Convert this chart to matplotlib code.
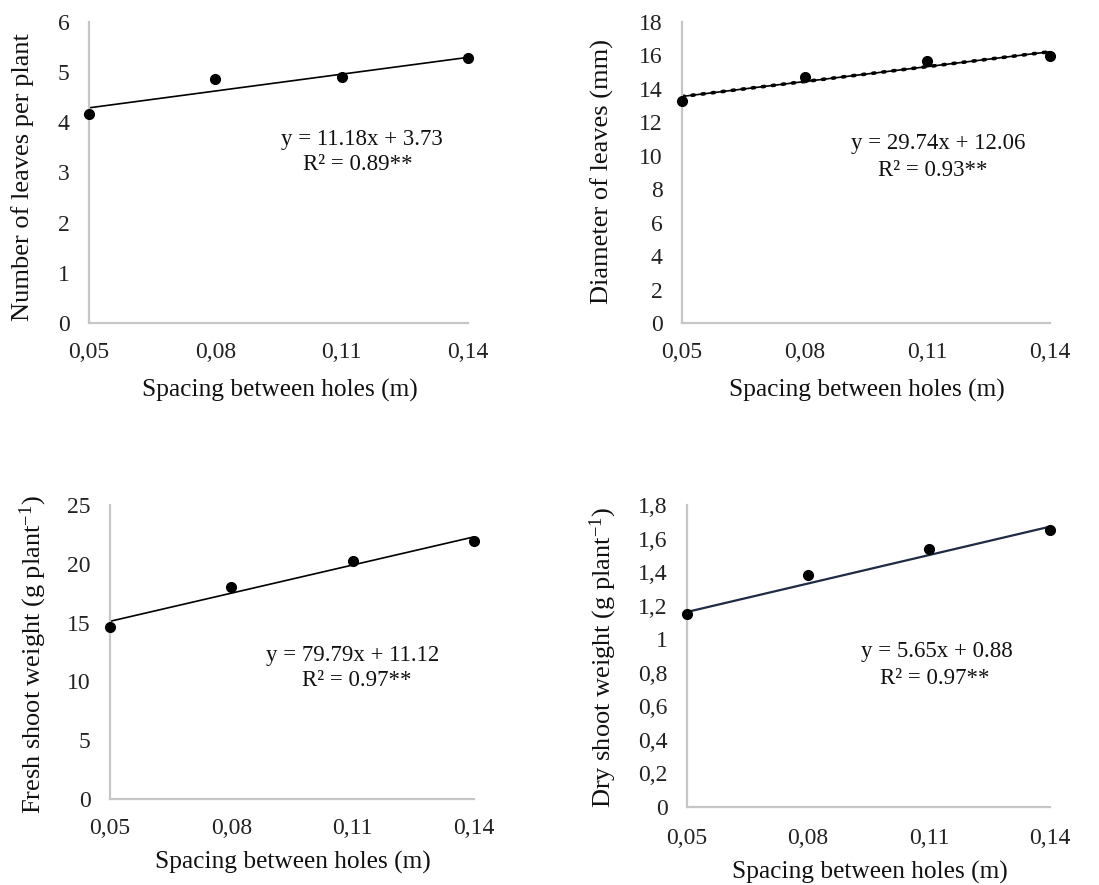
import matplotlib
matplotlib.use("Agg")
import matplotlib.pyplot as plt
import numpy as np

plt.rcParams['font.family'] = ['Liberation Serif', 'DejaVu Serif']
plt.rcParams['mathtext.fontset'] = 'custom'
plt.rcParams['mathtext.rm'] = 'Liberation Serif'
plt.rcParams['mathtext.it'] = 'Liberation Serif:italic'

spacing = [0.05, 0.08, 0.11, 0.14]
x_ticklabels = ["0,05", "0,08", "0,11", "0,14"]

leaves_number = [4.17, 4.86, 4.91, 5.28]
leaves_diameter = [13.29, 14.73, 15.65, 15.99]
fresh_weight = [14.61, 18.01, 20.27, 21.94]
dry_weight = [1.148, 1.382, 1.537, 1.651]

slopes = [11.18, 29.74, 79.79, 5.65]
intercepts = [3.73, 12.06, 11.12, 0.88]
r2_text = ["0.89**", "0.93**", "0.97**", "0.97**"]

y_labels = ["Number of leaves per plant", "Diameter of leaves (mm)",
            "Fresh shoot weight (g plant$^{\\mathrm{-1}}$)", "Dry shoot weight (g plant$^{\\mathrm{-1}}$)"]
y_ticks = [np.arange(0, 7, 1), np.arange(0, 19, 2), np.arange(0, 26, 5), np.arange(0, 1.81, 0.2)]
y_ticklabels = [[str(v) for v in range(0, 7)],
                [str(v) for v in range(0, 19, 2)],
                [str(v) for v in range(0, 26, 5)],
                ["0", "0,2", "0,4", "0,6", "0,8", "1", "1,2", "1,4", "1,6", "1,8"]]
y_max = [6, 18, 25, 1.8]

W, H = 1099, 885
fig = plt.figure(figsize=(W / 100, H / 100), dpi=100)

def box(l, r, t, b):
    return [l / W, 1 - b / H, (r - l) / W, (b - t) / H]

positions = [box(89, 468, 22, 323), box(682, 1050, 22, 323),
             box(110, 474, 505, 799), box(687, 1050, 505, 807)]
eq_pos = [(362, 140, 358, 165), (938, 143, 933, 170), (353, 655, 357, 681), (937, 652, 935, 678)]
ylab_pos = [(23, 177), (602, 172), (33, 655), (603, 657)]
xlab_pos = [(280, 390), (867, 390), (293, 862), (870, 872)]
x_pads = [14, 14, 14, 15]

data = [leaves_number, leaves_diameter, fresh_weight, dry_weight]
axis_color = "#c6c6c6"

for i in range(4):
    ax = fig.add_axes(positions[i])
    x = np.array(spacing)
    fit = slopes[i] * x + intercepts[i]
    if i == 1:
        ax.plot(x, fit, color="black", lw=1.2, zorder=2)
        ax.plot(x, fit, color="black", lw=2.6, linestyle=(0, (0.6, 2.2)),
                dash_capstyle="round", zorder=2)
    elif i == 3:
        ax.plot(x, fit, color="#1f2a44", lw=1.6, zorder=2)
    else:
        ax.plot(x, fit, color="black", lw=1.2, zorder=2)
    ax.plot(x, data[i], 'o', color="black", markersize=7, zorder=3, clip_on=False)
    ax.set_xlim(0.05, 0.14)
    ax.set_ylim(0, y_max[i])
    ax.set_xticks(spacing)
    ax.set_xticklabels(x_ticklabels)
    ax.set_yticks(y_ticks[i])
    ax.set_yticklabels(y_ticklabels[i])
    for s in ["top", "right"]:
        ax.spines[s].set_visible(False)
    for s in ["left", "bottom"]:
        ax.spines[s].set_color(axis_color)
        ax.spines[s].set_linewidth(1.6)
    ax.tick_params(axis="both", length=0, labelsize=17, colors="#222222")
    ax.tick_params(axis="x", pad=x_pads[i])
    ax.tick_params(axis="y", pad=14)
    ax.patch.set_alpha(0)

    ex, ey, rx, ry = eq_pos[i]
    fig.text(ex / W, 1 - ey / H, "y = %.2fx + %.2f" % (slopes[i], intercepts[i]),
             ha="center", va="center", fontsize=16.5, color="#111111")
    fig.text(rx / W, 1 - ry / H, "R\u00b2 = " + r2_text[i],
             ha="center", va="center", fontsize=16.5, color="#111111")
    lx, ly = ylab_pos[i]
    fig.text(lx / W, 1 - ly / H, y_labels[i], rotation=90, ha="center", va="center",
             fontsize=19, color="#111111")
    xx, xy = xlab_pos[i]
    fig.text(xx / W, 1 - xy / H, "Spacing between holes (m)", ha="center", va="center",
             fontsize=18.3, color="#111111")

fig.savefig("out.png", dpi=100, facecolor="white")
